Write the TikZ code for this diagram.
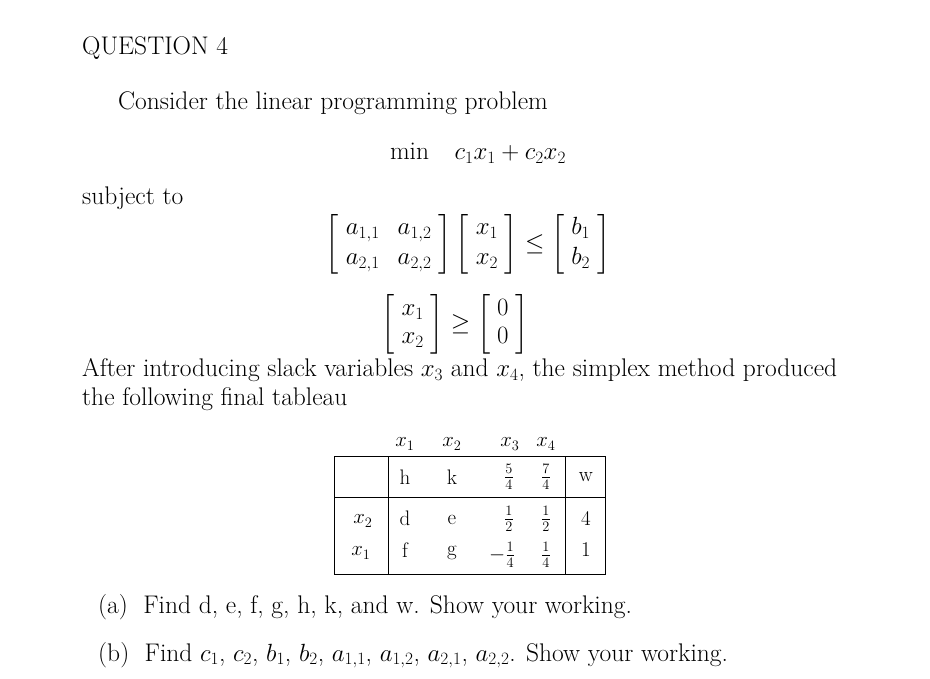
\documentclass[tikz,border=0pt]{standalone}
\usepackage{amsmath}
\newcommand{\mybm}[1]{\left[\;\begin{matrix}#1\end{matrix}\;\right]}
\begin{document}
\begin{tikzpicture}[x=1pt,y=-1pt,
  txt/.style={inner sep=0pt,anchor=base west,font=\fontsize{25.5}{30}\selectfont},
  ctr/.style={inner sep=0pt,anchor=center,font=\fontsize{25.5}{30}\selectfont},
  cell/.style={inner sep=0pt,anchor=center,font=\fontsize{21}{25}\selectfont}]
\useasboundingbox (0,0) rectangle (930,679);
\node[txt] (q) at (82,55) {QUESTION 4};
\node[txt] (c) at (118,110) {Consider the linear programming problem};
\node[txt,anchor=base] (m) at (478,160) {min\quad $c_1x_1+c_2x_2$};
\node[txt] (s) at (82,205) {subject to};
\node[ctr] (e1) at (468,244) {$\setlength{\arraycolsep}{9pt}\mybm{ a_{1,1} & a_{1,2}\\ a_{2,1} & a_{2,2}}\mybm{ x_1\\ x_2}\le\mybm{ b_1\\ b_2}$};
\node[ctr,font=\fontsize{24}{28}\selectfont] (e2) at (455,324) {$\mybm{ x_1\\ x_2}\ge\mybm{ 0\\ 0}$};
\node[txt] (a1) at (82,377) {After introducing slack variables $x_3$ and $x_4$, the simplex method produced};
\node[txt] (a2) at (82,405) {the following final tableau};
\node[draw,thick,minimum width=271,minimum height=118,anchor=north west,inner sep=0pt] (tb) at (334,456) {};
\draw[thick] (388,456) -- (388,574) (565,456) -- (565,574) (334,497) -- (605,497);
\foreach \t/\x in {x_1/405,x_2/452,x_3/510,x_4/546}
  \node[cell] at (\x,444) {$\t$};
\node[cell] at (405,477) {h};
\node[cell] at (452,477) {k};
\node[cell] at (509,477) {$\tfrac{5}{4}$};
\node[cell] at (546,477) {$\tfrac{7}{4}$};
\node[cell] at (586,477) {w};
\node[cell] at (363,521) {$x_2$};
\node[cell] at (405,518) {d};
\node[cell] at (452,520) {e};
\node[cell] at (509,519) {$\tfrac{1}{2}$};
\node[cell] at (546,519) {$\tfrac{1}{2}$};
\node[cell] at (586,518) {4};
\node[cell] at (361,553) {$x_1$};
\node[cell] at (405,550) {f};
\node[cell] at (452,553) {g};
\node[cell] at (502,555) {$-\tfrac{1}{4}$};
\node[cell] at (546,555) {$\tfrac{1}{4}$};
\node[cell] at (586,550) {1};
\node[txt] (pa) at (98,613) {(a)\ \ Find d, e, f, g, h, k, and w. Show your working.};
\node[txt] (pb) at (98,661) {(b)\ \ Find $c_1$, $c_2$, $b_1$, $b_2$, $a_{1,1}$, $a_{1,2}$, $a_{2,1}$, $a_{2,2}$. Show your working.};
\end{tikzpicture}
\end{document}
